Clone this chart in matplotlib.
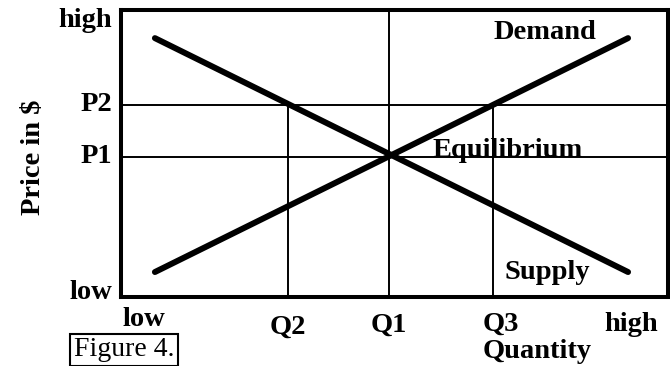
import matplotlib.pyplot as plt
import matplotlib.transforms as mtransforms

# curve end points (axis runs 0..10 on both sides)
supply_x = [0.62, 9.27]
supply_y = [0.87, 9.02]
demand_x = [0.62, 9.27]
demand_y = [9.02, 0.87]

# reference levels
p_levels = [6.69, 4.88]          # P2, P1
p_names = ['P2', 'P1']
q_levels = [3.05, 4.90, 6.80]    # Q2, Q1, Q3
q_tops = [6.69, 10.0, 6.69]

# tick labels
y_tick_names = ['high', 'P2', 'P1', 'low']
y_tick_pos = [9.65, 6.69, 4.88, 0.17]
x_tick_names = ['low', 'Q2', 'Q1', 'Q3', 'high']
x_tick_pos = [0.42, 3.05, 4.90, 6.95, 9.32]
x_tick_top = [-0.035, -0.063, -0.056, -0.052, -0.052]


def main():
    plt.rcParams['font.family'] = 'Liberation Serif'
    fig = plt.figure(figsize=(6.7, 3.66), dpi=100)
    ax = fig.add_axes([0.1806, 0.1885, 0.8164, 0.7842])
    ax.set_xlim(0, 10)
    ax.set_ylim(0, 10)
    ax.set_xticks([])
    ax.set_yticks([])
    for s in ax.spines.values():
        s.set_linewidth(2.9)

    # guide lines
    for p in p_levels:
        ax.axhline(p, color='black', lw=1.4)
    for q, top in zip(q_levels, q_tops):
        ax.plot([q, q], [0, top], color='black', lw=1.4)

    ax.plot(supply_x, supply_y, color='black', lw=4.3, solid_capstyle='round')
    ax.plot(demand_x, demand_y, color='black', lw=4.3, solid_capstyle='round')

    fs = 20.5
    ax.text(7.75, 9.2, 'Demand', ha='center', va='center', fontsize=fs, fontweight='bold')
    ax.text(7.8, 0.87, 'Supply', ha='center', va='center', fontsize=fs, fontweight='bold')
    ax.text(5.69, 4.88, 'Equilibrium', ha='left', va='baseline', fontsize=fs, fontweight='bold')

    ty = mtransforms.blended_transform_factory(ax.transAxes, ax.transData)
    for name, pos in zip(y_tick_names, y_tick_pos):
        ax.text(-0.016, pos, name, transform=ty, ha='right', va='center',
                fontsize=fs, fontweight='bold', clip_on=False)

    tx = mtransforms.blended_transform_factory(ax.transData, ax.transAxes)
    for name, pos, top in zip(x_tick_names, x_tick_pos, x_tick_top):
        ax.text(pos, top, name, transform=tx, ha='center', va='top',
                fontsize=fs, fontweight='bold', clip_on=False)

    fig.text(537 / 670, 1 - 352 / 366, 'Quantity', ha='center', va='center',
             fontsize=fs, fontweight='bold')
    fig.text(33 / 670, 1 - 157 / 366, 'Price in $', ha='center', va='center',
             rotation=90, fontsize=fs, fontweight='bold')
    fig.text(124 / 670, 1 - 350 / 366, 'Figure 4.', ha='center', va='center',
             fontsize=20,
             bbox=dict(boxstyle='square,pad=0.12', fc='white', ec='black', lw=1.5))

    plt.savefig('out.png', dpi=100)


if __name__ == "__main__":
    main()
